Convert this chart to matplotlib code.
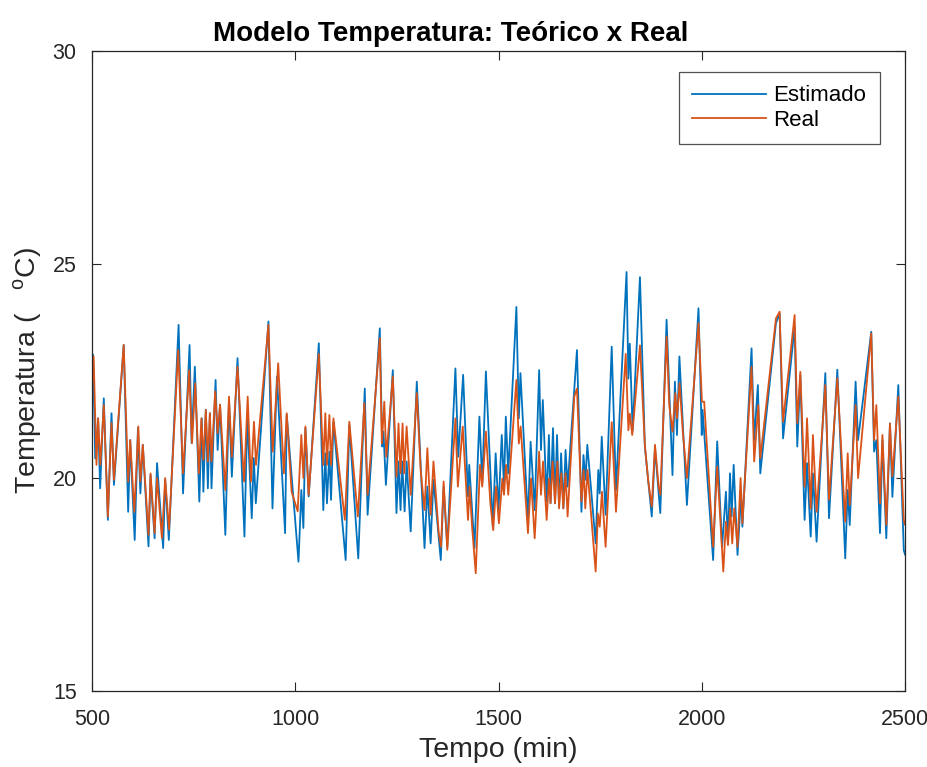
import matplotlib
matplotlib.use("Agg")
import matplotlib.pyplot as plt

plt.rcParams['font.family'] = ['Liberation Sans', 'DejaVu Sans']

title = "Modelo Temperatura: Teórico x Real"
xlabel = "Tempo (min)"
ylabel = "Temperatura (   $^{\\mathregular{o}}$C)"
series_names = ["Estimado", "Real"]
xticks = [500, 1000, 1500, 2000, 2500]
yticks = [15, 20, 25, 30]

t_est = [500, 502.5, 508, 515, 520, 529, 539, 548, 554, 578, 589, 594, 605, 613, 619, 625,
         639, 644, 654, 660, 675, 680, 689, 713, 724, 740, 745, 753, 764, 770, 774, 780,
         785, 790, 794, 804, 809, 815, 828,
         837, 844, 858, 875, 882, 893, 898, 903, 934, 944, 955, 975, 979, 1008, 1015, 1020,
         1025, 1033, 1058, 1069, 1074, 1078, 1084, 1088, 1094, 1124, 1133, 1155,
         1171, 1178, 1208, 1214, 1217, 1223, 1240, 1249, 1254, 1259, 1263, 1269, 1274, 1284,
         1299, 1318, 1325, 1333, 1340, 1358, 1365, 1374, 1394, 1401, 1413, 1425, 1428, 1441,
         1453, 1460, 1469, 1486, 1493, 1500,
         1508, 1513.5, 1518, 1524, 1544, 1550, 1554, 1572.5, 1579, 1589, 1600, 1604.5, 1609,
         1618.5, 1624, 1628, 1634, 1639, 1644, 1649, 1654, 1659.5, 1665, 1670, 1693, 1704,
         1709, 1714, 1718.5, 1739, 1745.5, 1749, 1754, 1763.5, 1778.5, 1789,
         1815, 1819.5, 1823, 1830, 1848,
         1860, 1877, 1885, 1898, 1913.5, 1928, 1934, 1939, 1945, 1963.5, 1992, 2000, 2002,
         2028, 2038, 2050, 2059.5, 2064.5, 2069.5, 2073.5, 2078.5, 2088, 2097, 2100, 2122.5,
         2129, 2138, 2144, 2182.5,
         2191.5, 2200, 2228.5, 2235, 2242.5, 2253, 2259, 2268, 2273.5, 2282.5, 2304, 2313,
         2333.5, 2353, 2359, 2364, 2378.5, 2384.5, 2417, 2424, 2429.5, 2438.5, 2444.5, 2454,
         2463, 2469, 2483.5, 2497, 2500]
y_est = [22.6, 22.88, 20.45, 21.39, 19.75, 21.86, 19.01, 21.51, 19.83, 23.11, 19.2, 20.88,
         18.54, 21.16, 19.63, 20.77, 18.39, 20.06, 18.58, 20.34, 18.35, 19.95, 18.54, 23.58,
         19.63, 23.11, 20.81, 22.6, 19.44, 21.39, 19.67, 21.59, 19.75, 21.51, 19.75, 22.29,
         20.65, 21.71, 18.66,
         21.82, 20.02, 22.8, 18.62, 21.43, 19.05, 20.46, 19.4, 23.66, 19.28, 22.37, 18.7,
         21.47, 18.03, 19.71, 18.82, 21.16, 19.56, 23.15, 19.24, 20.57, 19.4, 20.61, 19.48,
         21.31, 18.07, 21.24, 18.11,
         22.09, 19.13, 23.5, 20.73, 21.08, 19.83, 22.52, 19.17, 20.38, 19.24, 20.38, 19.21,
         20.38, 18.74, 22.25, 18.35, 19.79, 18.46, 19.95, 18.07, 19.79, 18.38, 22.56, 20.49,
         22.41, 19.56, 20.3, 18.35, 21.43, 19.87, 22.49, 18.85, 20.57, 19.24,
         21.0, 19.8, 21.43, 20.1, 24.0, 21.39, 22.45, 19.01, 20.84, 19.24, 22.52, 20.65,
         21.82, 19.44, 21.0, 19.4, 21.16, 19.4, 21.0, 19.32, 20.57, 19.28, 20.65, 19.79,
         22.99, 19.2, 20.53, 19.95, 20.77, 18.46, 20.18, 19.63, 20.96, 19.13, 23.07, 19.71,
         24.82, 22.32, 23.14, 21.1, 24.7,
         20.73, 19.09, 20.69, 19.17, 23.7, 20.06, 22.25, 21.0, 22.84, 19.36, 23.97, 21.0,
         21.59, 18.07, 20.85, 18.38, 19.67, 18.46, 20.1, 19.09, 20.3, 18.19, 19.63, 18.85,
         23.03, 20.88, 22.17, 20.1, 23.62,
         23.85, 20.92, 23.54, 20.73, 22.41, 19.01, 20.34, 18.62, 20.1, 18.5, 22.45, 19.05,
         22.53, 18.11, 19.71, 18.89, 22.25, 20.88, 23.42, 20.61, 20.88, 18.7, 20.88, 18.58,
         21.27, 19.55, 22.17, 18.3, 18.2]

t_real = [500, 504, 511, 515, 520.5, 529, 539, 548, 554, 578, 589, 594, 604, 614, 619, 625,
          639, 644, 654, 660, 672, 680, 689.5, 712, 724, 739, 746, 754, 763, 769, 774, 780,
          785, 790, 794, 803, 809, 815, 828,
          837, 844, 858, 874, 883, 891, 898.5, 903.5, 934, 944.5, 958, 972, 979, 991, 1006,
          1015, 1020, 1025, 1033, 1058, 1069, 1074, 1078, 1084, 1088, 1094, 1122, 1133, 1154,
          1170, 1178, 1208, 1213, 1219, 1224, 1240, 1249, 1254, 1259, 1264, 1268, 1274, 1284,
          1299, 1308.5, 1318, 1325, 1333, 1340, 1353, 1358.5, 1365, 1374, 1394, 1400, 1412,
          1425, 1429, 1435, 1444, 1454.5, 1460, 1469, 1480, 1487, 1494, 1501,
          1509.5, 1513.5, 1518.5, 1524, 1544, 1550, 1554.5, 1572.5, 1580, 1589, 1600, 1604.5,
          1609.5, 1618.5, 1624, 1628, 1633, 1639, 1645, 1649, 1654.5, 1659.5, 1665, 1670,
          1686.5, 1693, 1704, 1709.5, 1713.5, 1719, 1739, 1744.5, 1749, 1754.5, 1763.5,
          1778.5, 1789, 1813, 1819.5, 1823, 1829, 1848,
          1860, 1868.5, 1877, 1885, 1894, 1898, 1913.5, 1920, 1928, 1935, 1939, 1945.5, 1953,
          1963.5, 1992, 2000.5, 2006, 2028, 2038, 2053, 2059.5, 2064.5, 2070, 2075, 2080,
          2088, 2095.5, 2100, 2122.5, 2129, 2139, 2144, 2182.5,
          2191.5, 2200, 2228.5, 2235, 2242.5, 2253, 2259, 2268, 2273.5, 2282.5, 2304, 2313,
          2333.5, 2353, 2359, 2364, 2378.5, 2384.5, 2417, 2424, 2429.5, 2438.5, 2444.5, 2454,
          2463, 2469, 2483.5, 2497, 2500]
y_real = [22.1, 22.84, 20.3, 21.39, 20.3, 21.7, 19.09, 21.28, 19.95, 23.11, 19.91, 20.88,
          19.2, 21.2, 19.91, 20.77, 18.66, 20.1, 18.7, 19.99, 18.58, 19.99, 18.78, 22.99,
          20.1, 22.52, 20.81, 22.21, 20.1, 21.39, 20.42, 21.59, 20.38, 21.51, 20.38, 22.02,
          21.04, 21.71, 19.71,
          21.9, 20.49, 22.6, 19.91, 21.9, 19.91, 21.31, 20.3, 23.58, 20.61, 22.68, 20.1,
          21.51, 19.67, 19.21, 21.0, 19.99, 21.2, 19.6, 22.9, 20.3, 21.51, 20.3, 21.47, 20.3,
          21.39, 19.01, 21.31, 19.09,
          21.75, 19.6, 23.27, 20.8, 21.78, 20.49, 22.37, 20.02, 21.27, 20.1, 21.27, 20.1,
          21.2, 19.6, 21.98, 20.18, 19.24, 20.69, 19.13, 20.38, 18.7, 18.38, 19.91, 18.31,
          21.39, 19.79, 21.2, 19.01, 19.79, 18.85, 17.76, 20.3, 19.79, 21.08, 19.4, 18.77,
          19.79, 18.93,
          19.98, 19.6, 20.3, 19.6, 22.29, 20.8, 21.2, 18.7, 19.98, 18.58, 20.61, 19.6, 20.38,
          19.01, 19.98, 19.4, 20.38, 19.4, 20.38, 19.28, 20.1, 19.28, 20.1, 19.09, 21.9,
          22.09, 19.44, 20.18, 19.28, 20.18, 17.8, 19.16, 18.85, 19.67, 18.38, 21.3, 19.2,
          22.9, 21.11, 21.5, 21.0, 23.1,
          20.77, 19.91, 19.32, 20.77, 19.79, 19.6, 23.31, 21.7, 21.08, 21.98, 21.39, 22.21,
          21.12, 19.99, 23.62, 21.78, 21.78, 18.38, 20.26, 17.8, 18.97, 18.42, 19.28, 18.46,
          19.28, 18.38, 19.99, 18.93, 22.6, 20.38, 21.7, 20.45, 23.73,
          23.89, 21.31, 23.81, 21.28, 22.48, 19.79, 21.39, 19.28, 21.0, 19.2, 22.17, 19.48,
          22.33, 18.97, 20.57, 19.36, 21.7, 19.99, 23.38, 20.88, 21.7, 19.4, 21.0, 18.89,
          21.27, 20.03, 21.9, 19.01, 18.9]

BLUE = "#0072BD"
ORANGE = "#D95319"
AXC = "#262626"

fig = plt.figure(figsize=(9.28, 7.67), dpi=100)
ax = fig.add_axes([92/928, 1 - 691/767, 813/928, 640/767])
ax.plot(t_est, y_est, color=BLUE, lw=1.3, label=series_names[0])
ax.plot(t_real, y_real, color=ORANGE, lw=1.3, label=series_names[1])

ax.set_xlim(500, 2500)
ax.set_ylim(15, 30)
ax.set_xticks(xticks)
ax.set_yticks(yticks)
ax.tick_params(direction='in', length=6.5, width=0.8, top=True, right=True,
               labelsize=15.5, colors=AXC)
ax.tick_params(axis='x', pad=13)
ax.tick_params(axis='y', pad=11)
for s in ax.spines.values():
    s.set_color(AXC)
    s.set_linewidth(0.9)

ax.set_title(title, fontsize=20, fontweight='bold', pad=7, x=0.4416)
ax.set_xlabel(xlabel, fontsize=20.5, color=AXC, labelpad=5)
ax.set_ylabel(ylabel, fontsize=20.5, color=AXC, labelpad=6)

leg = ax.legend(loc='upper right', bbox_to_anchor=(0.969, 0.967), borderaxespad=0,
                fontsize=16, fancybox=False, frameon=True, handlelength=3.3,
                handletextpad=0.35, borderpad=0.6, labelspacing=0.15)
leg.get_frame().set_edgecolor(AXC)
leg.get_frame().set_linewidth(0.9)

fig.savefig("out.png", dpi=100)
